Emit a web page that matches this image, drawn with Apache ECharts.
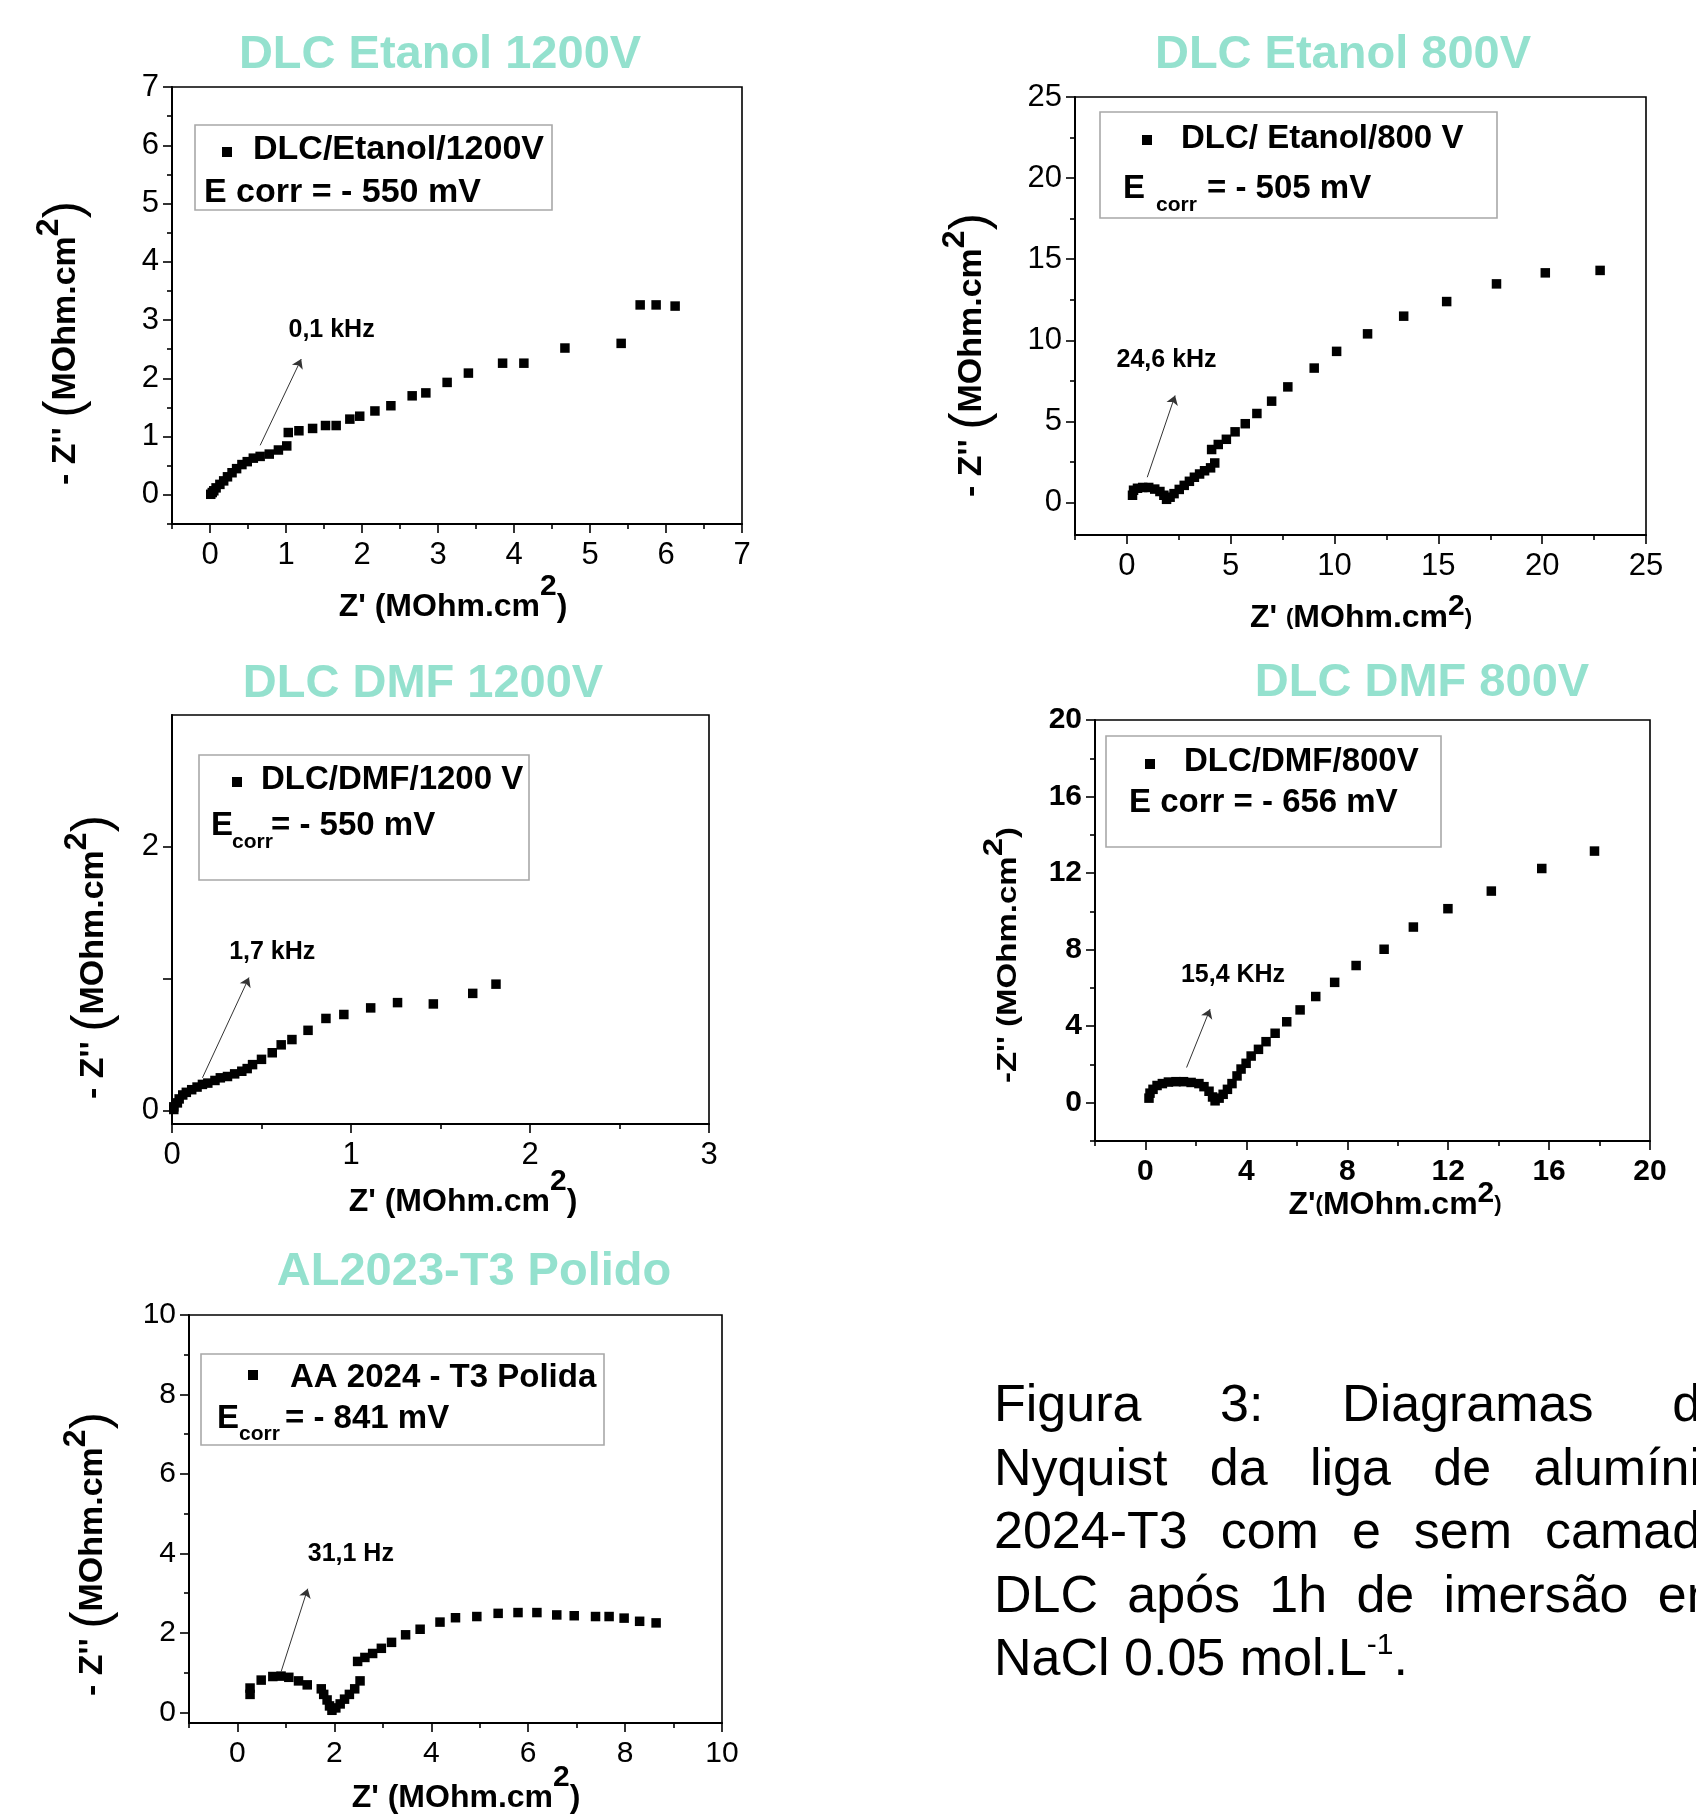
<!DOCTYPE html>
<html><head><meta charset="utf-8">
<script src="https://cdn.jsdelivr.net/npm/echarts@6/dist/echarts.min.js"></script>
<style>html,body{margin:0;padding:0;background:#fff}#c{width:1696px;height:1816px}</style>
</head><body><div id="c"></div><script>
// ---------------- DATA ----------------
const titles = ['DLC Etanol 1200V', 'DLC Etanol 800V', 'DLC DMF 1200V', 'DLC DMF 800V', 'AL2023-T3 Polido'];
const seriesNames = ['DLC/Etanol/1200V', 'DLC/ Etanol/800 V', 'DLC/DMF/1200 V', 'DLC/DMF/800V', 'AA 2024 - T3 Polida'];
const ecorrTexts = ['- 550 mV', '- 505 mV', '- 550 mV', '- 656 mV', '- 841 mV'];
const freqLabels = ['0,1 kHz', '24,6 kHz', '1,7 kHz', '15,4 KHz', '31,1 Hz'];

const etanol1200 = [[0.01,0.01],[0.03,0.04],[0.05,0.07],[0.08,0.12],[0.13,0.18],[0.18,0.24],[0.23,0.31],[0.29,0.38],[0.35,0.45],[0.42,0.52],[0.49,0.57],[0.57,0.63],[0.66,0.66],[0.78,0.70],[0.90,0.77],[1.01,0.84],[1.03,1.07],[1.17,1.10],[1.35,1.14],[1.52,1.19],[1.66,1.19],[1.84,1.30],[1.97,1.35],[2.17,1.44],[2.38,1.53],[2.66,1.70],[2.84,1.75],[3.12,1.93],[3.40,2.09],[3.85,2.26],[4.13,2.26],[4.67,2.52],[5.41,2.60],[5.66,3.26],[5.87,3.26],[6.12,3.24]];
const etanol800 = [[0.27,0.45],[0.32,0.76],[0.51,0.88],[0.76,0.93],[1.05,0.93],[1.34,0.83],[1.59,0.68],[1.78,0.45],[1.91,0.20],[2.08,0.33],[2.27,0.55],[2.52,0.81],[2.76,1.06],[3.01,1.31],[3.25,1.56],[3.50,1.76],[3.74,1.96],[4.03,2.14],[4.23,2.44],[4.08,3.27],[4.40,3.58],[4.79,3.90],[5.21,4.36],[5.70,4.86],[6.26,5.49],[6.97,6.25],[7.75,7.13],[9.02,8.29],[10.10,9.32],[11.59,10.40],[13.33,11.49],[15.40,12.39],[17.80,13.48],[20.15,14.16],[22.79,14.31]];
const dmf1200 = [[0.01,0.01],[0.01,0.03],[0.03,0.06],[0.04,0.09],[0.06,0.12],[0.08,0.14],[0.11,0.16],[0.14,0.18],[0.17,0.20],[0.20,0.21],[0.24,0.23],[0.27,0.25],[0.31,0.26],[0.35,0.28],[0.39,0.30],[0.42,0.32],[0.45,0.35],[0.50,0.39],[0.56,0.44],[0.61,0.50],[0.67,0.54],[0.76,0.61],[0.86,0.70],[0.96,0.73],[1.11,0.78],[1.26,0.82],[1.46,0.81],[1.68,0.89],[1.81,0.96]];
const dmf800 = [[0.14,0.24],[0.18,0.50],[0.30,0.70],[0.46,0.90],[0.67,1.00],[0.91,1.08],[1.21,1.10],[1.51,1.10],[1.81,1.06],[2.12,1.00],[2.32,0.84],[2.52,0.60],[2.66,0.30],[2.76,0.10],[2.92,0.24],[3.08,0.44],[3.25,0.70],[3.43,1.00],[3.63,1.40],[3.79,1.76],[3.99,2.06],[4.19,2.44],[4.48,2.79],[4.78,3.19],[5.14,3.63],[5.60,4.23],[6.13,4.85],[6.75,5.55],[7.50,6.29],[8.35,7.17],[9.46,8.02],[10.62,9.18],[11.99,10.14],[13.71,11.06],[15.71,12.24],[17.80,13.15]];
const aa2024 = [[0.26,0.45],[0.26,0.61],[0.49,0.81],[0.73,0.90],[0.90,0.91],[1.06,0.88],[1.26,0.79],[1.44,0.69],[1.73,0.59],[1.78,0.45],[1.85,0.31],[1.90,0.16],[1.95,0.05],[2.03,0.11],[2.12,0.21],[2.21,0.33],[2.31,0.45],[2.42,0.59],[2.53,0.79],[2.48,1.28],[2.63,1.38],[2.79,1.48],[2.97,1.61],[3.18,1.76],[3.47,1.95],[3.77,2.09],[4.18,2.27],[4.50,2.38],[4.94,2.41],[5.38,2.49],[5.79,2.51],[6.18,2.51],[6.59,2.45],[6.95,2.43],[7.39,2.41],[7.67,2.41],[7.98,2.37],[8.30,2.29],[8.64,2.25]];

// annotation arrows: [from, to], label position (data units)
const arrows = [
  [[0.66,0.85],[1.20,2.33]],
  [[0.98,1.56],[2.32,6.60]],
  [[0.17,0.25],[0.43,1.01]],
  [[1.63,1.84],[2.56,4.89]],
  [[0.90,1.02],[1.45,3.11]]
];
const freqLabelPos = [[1.60,2.83],[1.91,8.77],[0.56,1.20],[3.47,6.67],[2.34,3.98]];

// axis ranges
const xRanges = [[-0.5,7],[-2.5,25],[0,3],[-2,20],[-1,10]];
const yRanges = [[-0.5,7],[-2,25],[-0.1,3],[-2,20],[-0.27,10]];
// tick labels / ticks
const xMajor = [[0,1,2,3,4,5,6,7],[0,5,10,15,20,25],[0,1,2,3],[0,4,8,12,16,20],[0,2,4,6,8,10]];
const xMinor = [[-0.5,0.5,1.5,2.5,3.5,4.5,5.5,6.5],[-2.5,2.5,7.5,12.5,17.5,22.5],[0.5,1.5,2.5],[-2,2,6,10,14,18],[-1,1,3,5,7,9]];
const yMajor = [[0,1,2,3,4,5,6,7],[0,5,10,15,20,25],[0,1,2],[0,4,8,12,16,20],[0,2,4,6,8,10]];
const yLabels = [[0,1,2,3,4,5,6,7],[0,5,10,15,20,25],[0,2],[0,4,8,12,16,20],[0,2,4,6,8,10]];
const yMinor = [[-0.5,0.5,1.5,2.5,3.5,4.5,5.5,6.5],[2.5,7.5,12.5,17.5,22.5],[],[-2,2,6,10,14,18],[1,3,5,7,9]];
const seriesData = [etanol1200, etanol800, dmf1200, dmf800, aa2024];

// ---------------- LAYOUT ----------------
const FF = "'Liberation Sans', Arial, Helvetica, sans-serif";
const MINT = '#94E1CE';
const layout = [
  { grid:{left:172,top:87,width:570,height:437}, title:[440,55], tickFS:31, tickBold:false,
    box:[195,125,552,210], mk:[227,152], t1:[253,150], legFS:34,
    e:{plain:'E corr = - 550 mV', x:204, y:193},
    xt:{x:453,y:607,kind:'A'}, yt:{x:66,y:343,kind:'Y'} },
  { grid:{left:1075,top:97,width:571,height:438}, title:[1343,55], tickFS:31, tickBold:false,
    box:[1100,112,1497,218], mk:[1147,140], t1:[1181,139], legFS:33,
    e:{ex:1123, ey:189, sx:1156, sy:205, rx:1207},
    xt:{x:1361,y:618,kind:'B'}, yt:{x:972,y:355,kind:'Y'} },
  { grid:{left:172,top:715,width:537,height:409}, title:[423,684], tickFS:31, tickBold:false,
    box:[199,755,529,880], mk:[237,782], t1:[261,780], legFS:33,
    e:{ex:211, ey:826, sx:232, sy:842, rx:271},
    xt:{x:463,y:1202,kind:'A'}, yt:{x:94,y:957,kind:'Y'} },
  { grid:{left:1095,top:720,width:555,height:421}, title:[1422,683], tickFS:30, tickBold:true,
    box:[1106,736,1441,847], mk:[1150,764], t1:[1184,762], legFS:33,
    e:{plain:'E corr = - 656 mV', x:1129, y:803},
    xt:{x:1395,y:1205,kind:'C'}, yt:{x:1008,y:955,kind:'Y4', sx:1.18} },
  { grid:{left:189,top:1315,width:533,height:408}, title:[474,1272], tickFS:30, tickBold:false,
    box:[201,1354,604,1445], mk:[253,1375], t1:[290,1378], legFS:33,
    e:{ex:217, ey:1419, sx:239, sy:1434, rx:285},
    xt:{x:466,y:1798,kind:'A'}, yt:{x:93,y:1554,kind:'Y'} }
];

const richBase = {
  a:{fontSize:32,fontWeight:'bold',fontFamily:FF,fill:'#000',lineHeight:70},
  s:{fontSize:30,fontWeight:'bold',fontFamily:FF,fill:'#000',lineHeight:30,verticalAlign:'top'},
  p:{fontSize:52,fontWeight:'normal',fontFamily:FF,fill:'#000'},
  q:{fontSize:22,fontWeight:'bold',fontFamily:FF,fill:'#000'},
  a2:{fontSize:32,fontWeight:'bold',fontFamily:FF,fill:'#000',lineHeight:52},
  s2:{fontSize:30,fontWeight:'bold',fontFamily:FF,fill:'#000',lineHeight:30,verticalAlign:'top'},
  ay:{fontSize:34,fontWeight:'bold',fontFamily:FF,fill:'#000',lineHeight:66},
  sy:{fontSize:32,fontWeight:'bold',fontFamily:FF,fill:'#000',lineHeight:30,verticalAlign:'top'},
  a4:{fontSize:28,fontWeight:'bold',fontFamily:FF,fill:'#000',lineHeight:56},
  s4:{fontSize:28,fontWeight:'bold',fontFamily:FF,fill:'#000',lineHeight:28,verticalAlign:'top'},
  q4:{fontSize:28,fontWeight:'bold',fontFamily:FF,fill:'#000'}
};
const axisTitleText = {
  A: "{a|Z' (MOhm.cm}{s|2}{a|)}",
  B: "{a2|Z' }{q|(}{a2|MOhm.cm}{s2|2}{q|)}",
  C: "{a2|Z'}{q|(}{a2|MOhm.cm}{s2|2}{q|)}",
  Y: "{ay|- Z'' }{p|(}{ay|MOhm.cm}{sy|2}{p|)}",
  Y4: "{a4|-Z'' }{q4|(}{a4|MOhm.cm}{s4|2}{q4|)}"
};

const grids = [], xAxes = [], yAxes = [], series = [], graphics = [];
const tickLine = {color:'#000', width:1.6};

layout.forEach((L, i) => {
  grids.push(Object.assign({show:true, borderColor:'#000', borderWidth:1.6, backgroundColor:'transparent'}, L.grid));
  const lab = {fontSize:L.tickFS, fontFamily:FF, color:'#000', fontWeight:L.tickBold?'bold':'normal'};
  xAxes.push({type:'value', gridIndex:i, min:xRanges[i][0], max:xRanges[i][1], position:'bottom',
    axisLine:{show:true, onZero:false, lineStyle:{color:'#000', width:2}},
    axisTick:{show:true, inside:false, length:9, lineStyle:tickLine, customValues:xMajor[i]},
    axisLabel:Object.assign({customValues:xMajor[i], margin:16}, lab), splitLine:{show:false}});
  xAxes.push({type:'value', gridIndex:i, min:xRanges[i][0], max:xRanges[i][1], position:'bottom',
    axisLine:{show:false, onZero:false},
    axisTick:{show:true, inside:false, length:5, lineStyle:tickLine, customValues:xMinor[i]},
    axisLabel:{show:false}, splitLine:{show:false}});
  yAxes.push({type:'value', gridIndex:i, min:yRanges[i][0], max:yRanges[i][1], position:'left',
    axisLine:{show:true, onZero:false, lineStyle:{color:'#000', width:2}},
    axisTick:{show:true, inside:false, length:9, lineStyle:tickLine, customValues:yMajor[i]},
    axisLabel:Object.assign({customValues:yLabels[i], margin:13}, lab), splitLine:{show:false}});
  yAxes.push({type:'value', gridIndex:i, min:yRanges[i][0], max:yRanges[i][1], position:'left',
    axisLine:{show:false, onZero:false},
    axisTick:{show:yMinor[i].length>0, inside:false, length:5, lineStyle:tickLine, customValues:yMinor[i].length?yMinor[i]:[yRanges[i][0]]},
    axisLabel:{show:false}, splitLine:{show:false}});

  series.push({
    type:'scatter', name:seriesNames[i], xAxisIndex:2*i, yAxisIndex:2*i,
    data:seriesData[i], symbol:'rect', symbolSize:9.5, itemStyle:{color:'#000', opacity:1},
    silent:true,
    markLine:{silent:true, symbol:['none','arrow'], symbolSize:9, animation:false,
      lineStyle:{color:'#333', width:1, type:'solid'}, label:{show:false},
      data:[[{coord:arrows[i][0]},{coord:arrows[i][1]}]]},
    markPoint:{silent:true, symbol:'circle', symbolSize:1, itemStyle:{color:'rgba(0,0,0,0)'}, animation:false,
      label:{show:true, position:'inside', formatter:freqLabels[i], fontSize:25, fontWeight:'bold', fontFamily:FF, color:'#000'},
      data:[{coord:freqLabelPos[i]}]}
  });

  // panel title
  graphics.push({type:'text', x:L.title[0], y:L.title[1], silent:true,
    style:{text:titles[i], fill:MINT, fontSize:47, fontWeight:'bold', fontFamily:FF, align:'center', verticalAlign:'middle'}});
  // legend box
  const b = L.box;
  graphics.push({type:'rect', silent:true, shape:{x:b[0], y:b[1], width:b[2]-b[0], height:b[3]-b[1]},
    style:{fill:'#fff', stroke:'#a8a8a8', lineWidth:1.6}});
  graphics.push({type:'rect', silent:true, shape:{x:L.mk[0]-5, y:L.mk[1]-5, width:10, height:10}, style:{fill:'#000'}});
  const legStyle = {fill:'#000', fontSize:L.legFS, fontWeight:'bold', fontFamily:FF, align:'left', verticalAlign:'middle'};
  graphics.push({type:'text', silent:true, x:L.t1[0], y:L.t1[1], style:Object.assign({text:seriesNames[i]}, legStyle)});
  if (L.e.plain) {
    graphics.push({type:'text', silent:true, x:L.e.x, y:L.e.y, style:Object.assign({}, legStyle, {text:L.e.plain})});
  } else {
    graphics.push({type:'text', silent:true, x:L.e.ex, y:L.e.ey, style:Object.assign({}, legStyle, {text:'E'})});
    graphics.push({type:'text', silent:true, x:L.e.sx, y:L.e.sy, style:Object.assign({}, legStyle, {text:'corr', fontSize:21})});
    graphics.push({type:'text', silent:true, x:L.e.rx, y:L.e.ey, style:Object.assign({}, legStyle, {text:'= ' + ecorrTexts[i]})});
  }
  // axis titles
  graphics.push({type:'text', silent:true, x:L.xt.x, y:L.xt.y,
    style:{text:axisTitleText[L.xt.kind], rich:richBase, align:'center', verticalAlign:'middle'}});
  graphics.push({type:'text', silent:true, x:L.yt.x, y:L.yt.y, rotation:Math.PI/2, scaleX:L.yt.sx || 1,
    style:{text:axisTitleText[L.yt.kind], rich:richBase, align:'center', verticalAlign:'middle'}});
});

// ---------------- CAPTION (justified) ----------------
const captionLines = [
  ['Figura', '3:', 'Diagramas', 'de'],
  ['Nyquist', 'da', 'liga', 'de', 'alumínio'],
  ['2024-T3', 'com', 'e', 'sem', 'camada'],
  ['DLC', 'após', '1h', 'de', 'imersão', 'em']
];
const captionLast = 'NaCl 0.05 mol.L';
const CAP_FS = 52, CAP_LEFT = 994, CAP_RIGHT = 1730, CAP_Y0 = 1407, CAP_LH = 63.5;
const ctx = document.createElement('canvas').getContext('2d');
ctx.font = CAP_FS + 'px ' + FF;
captionLines.forEach((words, li) => {
  const widths = words.map(w => ctx.measureText(w).width);
  const total = widths.reduce((s, v) => s + v, 0);
  const gap = (CAP_RIGHT - CAP_LEFT - total) / (words.length - 1);
  let x = CAP_LEFT;
  words.forEach((w, j) => {
    graphics.push({type:'text', silent:true, x:x, y:CAP_Y0 + li * CAP_LH,
      style:{text:w, fill:'#000', fontSize:CAP_FS, fontFamily:FF, align:'left', verticalAlign:'middle'}});
    x += widths[j] + gap;
  });
});
graphics.push({type:'text', silent:true, x:CAP_LEFT, y:CAP_Y0 + 4 * CAP_LH,
  style:{text:'{m|' + captionLast + '}{u|-1}{m|.}', align:'left', verticalAlign:'middle',
    rich:{m:{fontSize:CAP_FS, fontFamily:FF, fill:'#000', lineHeight:60},
          u:{fontSize:30, fontFamily:FF, fill:'#000', lineHeight:34, verticalAlign:'top'}}}});

const chart = echarts.init(document.getElementById('c'), null, {renderer:'canvas', width:1696, height:1816});
chart.setOption({
  backgroundColor:'#fff', animation:false,
  grid:grids, xAxis:xAxes, yAxis:yAxes, series:series, graphic:graphics
});
</script></body></html>
